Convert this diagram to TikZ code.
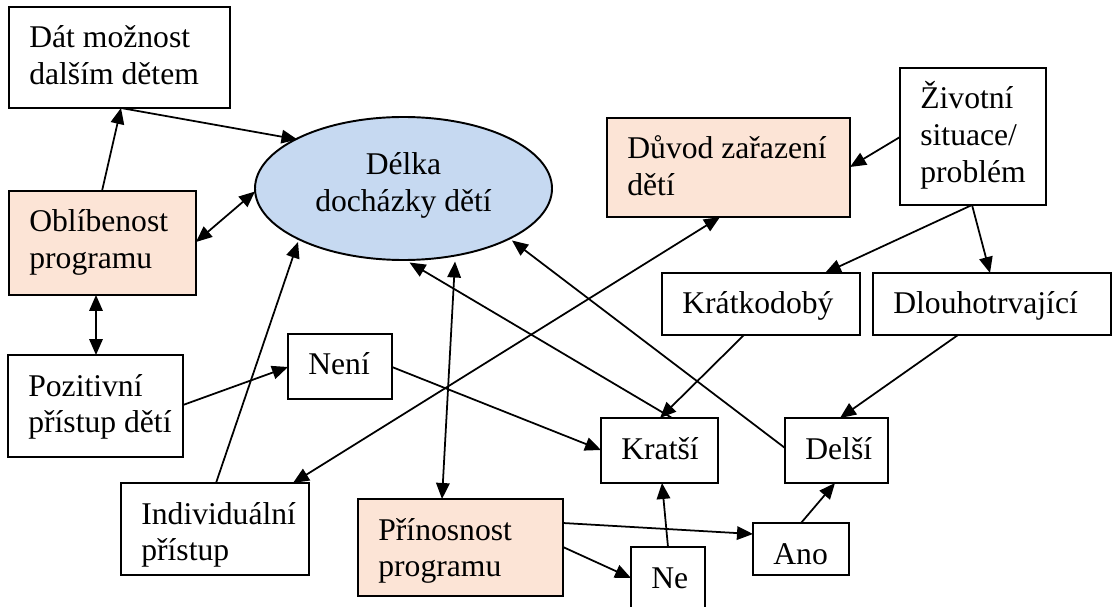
\documentclass[tikz,border=0pt]{standalone}
\usepackage{fontspec}
\setmainfont{Liberation Serif}
\usetikzlibrary{arrows.meta,shapes.geometric}

\definecolor{peach}{HTML}{FCE4D6}
\definecolor{paleblue}{HTML}{C6D9F1}

% box: name, left, top, width, height (pixel units), extra style
\newcommand\tbox[6]{%
  \node[boxshape,#6,minimum width={#4*0.02cm},minimum height={#5*0.02cm},anchor=north west] (#1) at (#2,#3) {};}
% box text, first baseline fixed below the top-left corner: box name, text
\newcommand\ttext[2]{%
  \node[boxtext] (#1-t) at ([shift={(20,41)}]#1.north west)
    {\begin{tabular}[t]{@{}l@{}}#2\end{tabular}};}

\begin{document}
\begin{tikzpicture}[x=0.02cm,y=-0.02cm,
  boxshape/.style={draw,rectangle,line width=1.1pt,inner sep=0pt,outer sep=0pt,fill=white},
  hot/.style={fill=peach},
  boxtext/.style={anchor=base west,inner sep=0pt,font=\fontsize{18}{21}\selectfont},
  conn/.style={line width=1pt,>={Triangle[length=0.32cm,width=0.27cm]}},
  ]
\useasboundingbox (0,0) rectangle (1114,607);
\clip (0,0) rectangle (1114,607);

% central ellipse
\node[ellipse,draw,line width=1.1pt,fill=paleblue,inner sep=0pt,
      minimum width={297*0.02cm},minimum height={143*0.02cm}] (ell) at (403.5,188.5) {};
\node[anchor=base,inner sep=0pt,font=\fontsize{18}{21}\selectfont]
      (ell-t) at ([shift={(0,-13.5)}]ell.center)
      {\begin{tabular}[t]{@{}c@{}}Délka\\docházky dětí\end{tabular}};

% boxes
\tbox{dat}{9}{7}{221}{101}{}
\tbox{obl}{9}{191}{187}{104}{hot}
\tbox{duv}{607}{118}{243}{99}{hot}
\tbox{ziv}{900}{68}{146}{137}{}
\tbox{krd}{662}{273}{198}{62}{}
\tbox{dlo}{873}{273}{238}{62}{}
\tbox{poz}{8}{355}{175}{102}{}
\tbox{nen}{288}{334}{104}{65}{}
\tbox{ind}{121}{483}{188}{92}{}
\tbox{pri}{358}{499}{205}{97}{hot}
\tbox{kra}{601}{418}{117}{65}{}
\tbox{del}{785}{418}{103}{65}{}
\tbox{ano}{753}{523}{96}{52}{}
\tbox{ne}{631}{547}{74}{80}{}

\ttext{dat}{Dát možnost\\dalším dětem}
\ttext{obl}{Oblíbenost\\programu}
\ttext{duv}{Důvod zařazení\\dětí}
\ttext{ziv}{Životní\\situace/\\problém}
\ttext{krd}{Krátkodobý}
\ttext{dlo}{Dlouhotrvající}
\ttext{poz}{Pozitivní\\přístup dětí}
\ttext{nen}{Není}
\ttext{ind}{Individuální\\přístup}
\ttext{pri}{Přínosnost\\programu}
\ttext{kra}{Kratší}
\ttext{del}{Delší}
\ttext{ano}{Ano}
\ttext{ne}{Ne}

% connectors
\begin{scope}[conn]
\draw[->] ([shift={(112,0)}]dat.south west) -- ([shift={(-106,-49)}]ell.center);
\draw[->] ([shift={(93,0)}]obl.north west) -- ([shift={(112,0)}]dat.south west);
\draw[<->] ([shift={(0,51)}]obl.north east) -- ([shift={(1,3)}]ell.west);
\draw[<->] ([shift={(87,0)}]obl.south west) -- ([shift={(88,0)}]poz.north west);
\draw[->] ([shift={(95,0)}]ind.north west) -- ([shift={(-105.5,53.5)}]ell.center);
\draw[->] ([shift={(0,50)}]poz.north east) -- ([shift={(0,33)}]nen.north west);
\draw[->] ([shift={(0,33)}]nen.north east) -- ([shift={(0,32)}]kra.north west);
\draw[<->] ([shift={(172,0)}]ind.north west) -- ([shift={(113,0)}]duv.south west);
\draw[->] ([shift={(0,69)}]ziv.north west) -- ([shift={(0,49)}]duv.north east);
\draw[->] ([shift={(72,0)}]ziv.south west) -- ([shift={(163,0)}]krd.north west);
\draw[->] ([shift={(72,0)}]ziv.south west) -- ([shift={(117,0)}]dlo.north west);
\draw[->] ([shift={(82,0)}]krd.south west) -- ([shift={(59,0)}]kra.north west);
\draw[->] ([shift={(85,0)}]dlo.south west) -- ([shift={(55,0)}]del.north west);
\draw[->] ([shift={(71,0)}]kra.north west) -- ([shift={(6,74)}]ell.center);
\draw[->] ([shift={(0,30)}]del.north west) -- ([shift={(108.5,52)}]ell.center);
\draw[<->] ([shift={(51.5,73)}]ell.center) -- ([shift={(84,0)}]pri.north west);
\draw[->] ([shift={(0,24)}]pri.north east) -- ([shift={(0,11)}]ano.north west);
\draw[->] ([shift={(0,48)}]pri.north east) -- ([shift={(0,31)}]ne.north west);
\draw[->] ([shift={(37,0)}]ne.north west) -- ([shift={(61,0)}]kra.south west);
\draw[->] ([shift={(48,0)}]ano.north west) -- ([shift={(50,0)}]del.south west);
\end{scope}
\end{tikzpicture}
\end{document}
